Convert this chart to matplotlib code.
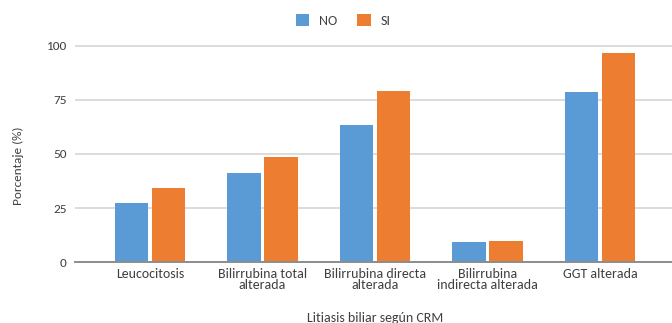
import matplotlib
matplotlib.use('Agg')
import matplotlib.pyplot as plt
import numpy as np

# data
categorias = ['Leucocitosis', 'Bilirrubina total\nalterada', 'Bilirrubina directa\nalterada',
              'Bilirrubina\nindirecta alterada', 'GGT alterada']
no_vals = [27.5, 41.2, 63.4, 9.4, 78.5]
si_vals = [34.1, 48.5, 79.1, 9.8, 96.5]
yticks = [0, 25, 50, 75, 100]

plt.rcParams['font.family'] = ['Carlito', 'DejaVu Sans']
txt = '#404040'

W, H = 672, 323
fig = plt.figure(figsize=(6.72, 3.23), dpi=100)
# plot area in pixels: left 75, right 672, baseline at 262.3, 2.166 px per unit
ax = fig.add_axes([75/W, 1 - 262.3/H, 1 - 75/W, (102*2.166)/H])

x = np.arange(len(categorias))
w = 0.297
ax.bar(x - 0.166, no_vals, w, color='#5B9BD5', label='NO', zorder=3)
ax.bar(x + 0.166, si_vals, w, color='#ED7D31', label='SI', zorder=3)

ax.set_xlim(-0.667, 4.64)
ax.set_ylim(0, 102)
ax.set_yticks(yticks)
ax.set_xticks(x)
ax.set_xticklabels(categorias, fontsize=10, color=txt, linespacing=0.95)
ax.tick_params(axis='y', labelsize=9.5, labelcolor=txt, length=0, pad=6)
ax.tick_params(axis='x', length=0, pad=4)
ax.yaxis.grid(True, color='#D9D9D9', linewidth=1.3, zorder=0)

for s in ['top', 'right', 'left']:
    ax.spines[s].set_visible(False)
ax.spines['bottom'].set_color('#8C8C8C')
ax.spines['bottom'].set_linewidth(1.4)
ax.spines['bottom'].set_zorder(4)

fig.text(18.5/W, 1 - 166/H, 'Porcentaje (%)', rotation=90, ha='center', va='center',
         fontsize=9.5, color=txt)
fig.text(375/W, 1 - 318/H, 'Litiasis biliar según CRM', ha='center', va='center',
         fontsize=10, color=txt)

fig.legend(loc='center', bbox_to_anchor=(343/W, 1 - 20.5/H), ncol=2, frameon=False,
           handlelength=1.0, handleheight=0.95, columnspacing=1.4, handletextpad=0.7,
           fontsize=10, labelcolor=txt)

plt.savefig('out.png', dpi=100)
